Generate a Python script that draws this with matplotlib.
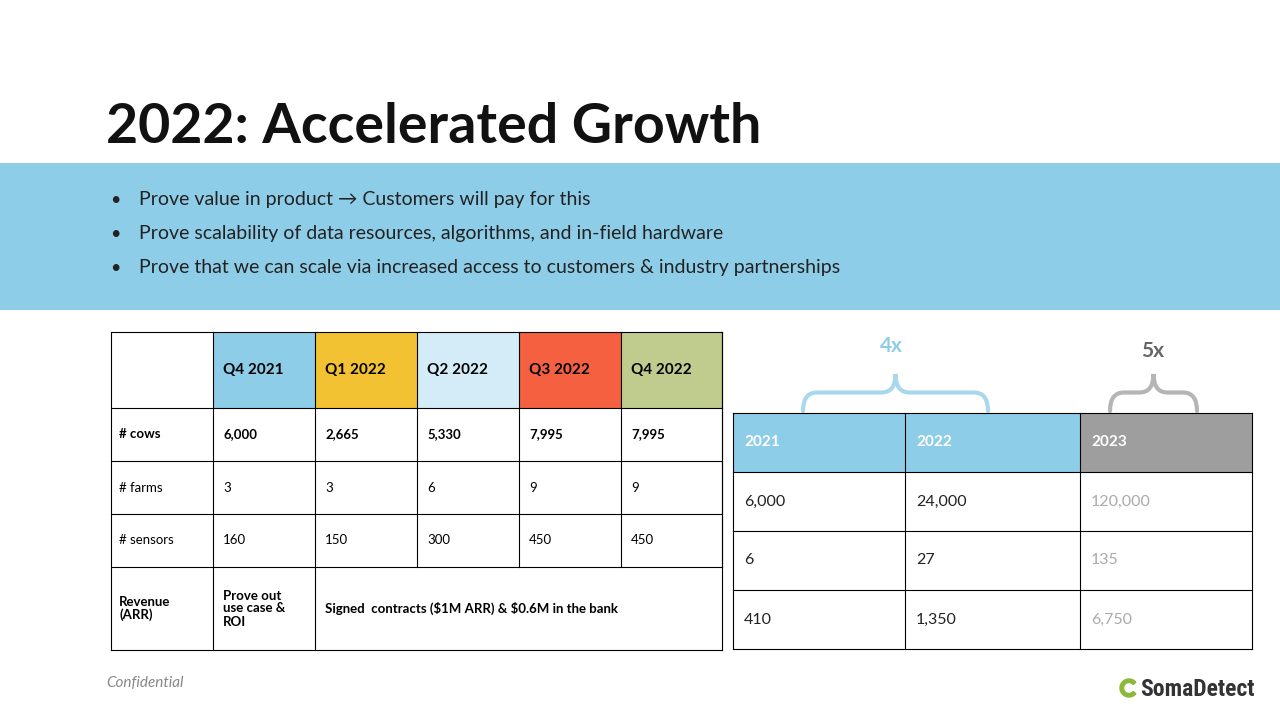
import matplotlib
matplotlib.use("Agg")
import matplotlib.pyplot as plt
from matplotlib.patches import Rectangle, PathPatch, Wedge
from matplotlib.path import Path

plt.rcParams['font.family'] = ['Lato', 'DejaVu Sans']

title = "2022: Accelerated Growth"
bullets = ["Prove value in product \u2192 Customers will pay for this",
           "Prove scalability of data resources, algorithms, and in-field hardware",
           "Prove that we can scale via increased access to customers & industry partnerships"]

quarters = ["Q4 2021", "Q1 2022", "Q2 2022", "Q3 2022", "Q4 2022"]
q_colors = ["#8ecde8", "#f2c232", "#d3ecf7", "#f46040", "#bfcc8e"]
row_labels = ["# cows", "# farms", "# sensors"]
cows = ["6,000", "2,665", "5,330", "7,995", "7,995"]
farms = ["3", "3", "6", "9", "9"]
sensors = ["160", "150", "300", "450", "450"]
revenue_first = "Prove out\nuse case &\nROI"
revenue_rest = "Signed  contracts (\\$1M ARR) & \\$0.6M in the bank"

years = ["2021", "2022", "2023"]
y_colors = ["#8ecde8", "#8ecde8", "#9e9e9e"]
y_rows = [["6,000", "24,000", "120,000"],
          ["6", "27", "135"],
          ["410", "1,350", "6,750"]]
multipliers = ["4x", "5x"]

fig = plt.figure(figsize=(12.8, 7.2), dpi=100)
ax = fig.add_axes([0, 0, 1, 1])
ax.set_xlim(0, 1280)
ax.set_ylim(720, 0)
ax.axis('off')

ax.text(106, 143, title, fontsize=40, fontweight='bold', va='baseline', color='#111111')
ax.add_patch(Rectangle((0, 163), 1280, 147, color='#8ecde8', lw=0))
for i, b in enumerate(bullets):
    y = 200 + i * 34
    ax.text(110, y, "\u2022", fontsize=13, va='center', color='#222222')
    ax.text(139, y, b, fontsize=14, va='center', color='#222222')

# left table
xs = [111, 213, 315, 417, 519, 621, 722]
ys = [332, 408, 461, 514, 567, 650]
for j, (q, c) in enumerate(zip(quarters, q_colors)):
    ax.add_patch(Rectangle((xs[j + 1], ys[0]), xs[j + 2] - xs[j + 1], ys[1] - ys[0], color=c, lw=0))
    ax.text(xs[j + 1] + 10, (ys[0] + ys[1]) / 2, q, fontsize=11, fontweight='bold', va='center')
for i, (lab, vals) in enumerate(zip(row_labels, [cows, farms, sensors])):
    yc = (ys[i + 1] + ys[i + 2]) / 2
    bold = 'bold' if i == 0 else 'normal'
    ax.text(xs[0] + 8, yc, lab, fontsize=9.5, va='center', fontweight=bold)
    for j, v in enumerate(vals):
        ax.text(xs[j + 1] + 10, yc, v, fontsize=9.5, va='center', fontweight=bold)
yc = (ys[4] + ys[5]) / 2
ax.text(xs[0] + 8, yc, "Revenue\n(ARR)", fontsize=9.5, va='center', fontweight='bold', linespacing=1.1)
ax.text(xs[1] + 10, yc, revenue_first, fontsize=9.5, va='center', fontweight='bold', linespacing=1.1)
ax.text(xs[2] + 10, yc, revenue_rest, fontsize=9.5, va='center', fontweight='bold')
for y in ys:
    ax.plot([xs[0], xs[-1]], [y, y], color='black', lw=0.8)
for k, x in enumerate(xs):
    if k >= 3:
        ax.plot([x, x], [ys[0], ys[4]], color='black', lw=0.8)
    else:
        ax.plot([x, x], [ys[0], ys[-1]], color='black', lw=0.8)
ax.plot([xs[-1], xs[-1]], [ys[0], ys[-1]], color='black', lw=0.8)

# right table
rx = [733, 905, 1080, 1252]
ry = [413, 472, 531, 590, 649]
for j, (yr, c) in enumerate(zip(years, y_colors)):
    ax.add_patch(Rectangle((rx[j], ry[0]), rx[j + 1] - rx[j], ry[1] - ry[0], color=c, lw=0))
    ax.text(rx[j] + 11, (ry[0] + ry[1]) / 2, yr, fontsize=11, fontweight='bold', color='white', va='center')
for i, row in enumerate(y_rows):
    yc = (ry[i + 1] + ry[i + 2]) / 2
    for j, v in enumerate(row):
        ax.text(rx[j] + 11, yc, v, fontsize=11.5, va='center',
                color='#aaaaaa' if j == 2 else '#222222')
for y in ry:
    ax.plot([rx[0], rx[-1]], [y, y], color='black', lw=0.8)
for x in rx:
    ax.plot([x, x], [ry[0], ry[-1]], color='black', lw=0.8)

def brace(x0, x1, ytop, ybot, color):
    xm = (x0 + x1) / 2
    r = 14
    ymid = (ytop + ybot) / 2
    verts = [(x0, ybot), (x0, ymid), (x0 + r, ymid), (x0 + r, ymid),
             (xm - r, ymid), (xm - r, ymid), (xm, ymid), (xm, ytop),
             (xm, ymid), (xm + r, ymid), (xm + r, ymid), (x1 - r, ymid),
             (x1 - r, ymid), (x1, ymid), (x1, ybot)]
    codes = [Path.MOVETO, Path.CURVE3, Path.CURVE3, Path.LINETO,
             Path.LINETO, Path.LINETO, Path.CURVE3, Path.CURVE3,
             Path.CURVE3, Path.CURVE3, Path.LINETO, Path.LINETO,
             Path.LINETO, Path.CURVE3, Path.CURVE3]
    ax.add_patch(PathPatch(Path(verts, codes), fill=False, ec=color, lw=3, capstyle='round'))

brace(803, 988, 374, 411, '#a9d8ee')
brace(1110, 1197, 374, 411, '#b5b5b5')
ax.text(891, 346, multipliers[0], fontsize=15, fontweight='bold', color='#8ecde8', ha='center', va='center')
ax.text(1153, 351, multipliers[1], fontsize=15, fontweight='bold', color='#666666', ha='center', va='center')

ax.text(106, 683, "Confidential", fontsize=11, style='italic', color='#888888', va='center')
ax.add_patch(Wedge((1129, 688), 9, 40, 320, width=3.5, color='#8cb83a'))
ax.text(1140, 689, "SomaDetect", fontsize=17, fontweight='bold', color='#333333', va='center',
        family=['Roboto Condensed', 'Liberation Sans Narrow', 'DejaVu Sans'], stretch='condensed')

fig.savefig("out.png", dpi=100)
